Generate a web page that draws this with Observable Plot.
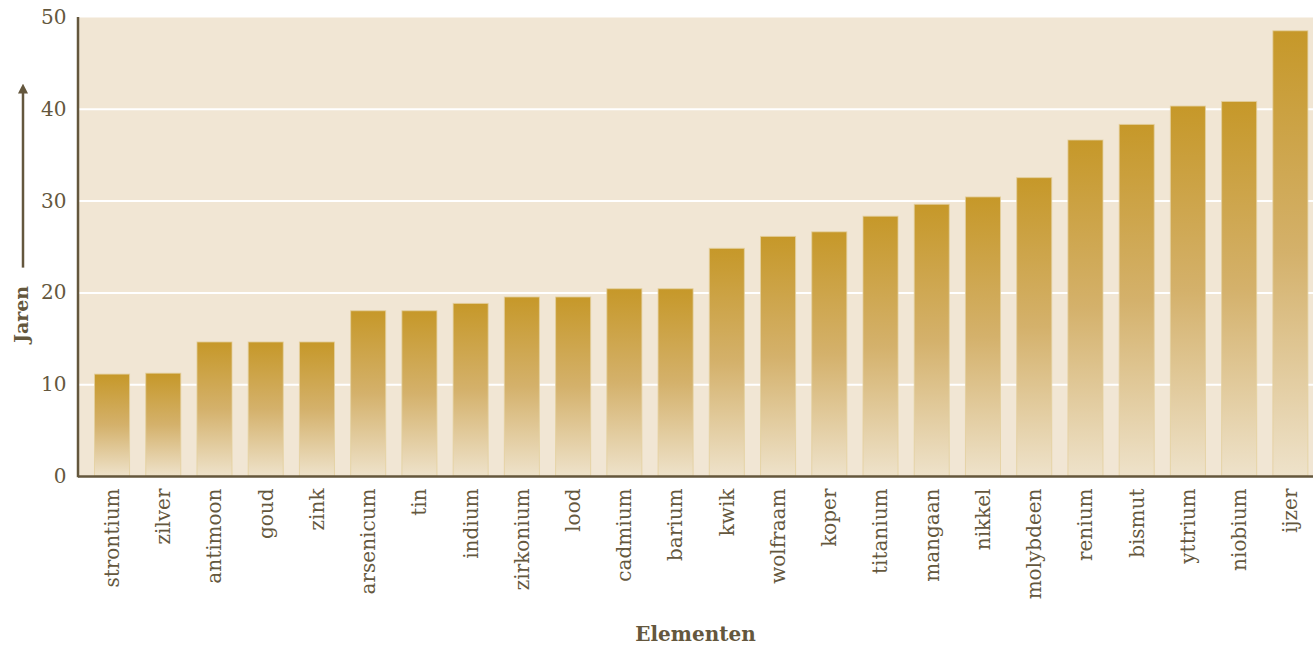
<!DOCTYPE html>
<html>
<head>
<meta charset="utf-8">
<script src="https://cdn.jsdelivr.net/npm/d3@7"></script>
<script src="https://cdn.jsdelivr.net/npm/@observablehq/plot@0.6"></script>
<style>
  html, body { margin: 0; padding: 0; background: #ffffff; }
  #chart svg { display: block; }
</style>
</head>
<body>
<div id="chart"></div>
<script>
const elements = ["strontium","zilver","antimoon","goud","zink","arsenicum","tin","indium","zirkonium","lood","cadmium","barium","kwik","wolfraam","koper","titanium","mangaan","nikkel","molybdeen","renium","bismut","yttrium","niobium","ijzer"];
const years = [11.1,11.2,14.6,14.6,14.6,18.0,18.0,18.8,19.5,19.5,20.4,20.4,24.8,26.1,26.6,28.3,29.6,30.4,32.5,36.6,38.3,40.3,40.8,48.5];
const yTicks = [0,10,20,30,40,50];
const gridTicks = [10,20,30,40];
const yLabel = "Jaren";
const xLabel = "Elementen";

const data = elements.map((e, i) => ({element: e, years: years[i]}));

const ink = "#64573d";
const font = "'DejaVu Serif', serif";

const defs = () => {
  const d = d3.create("svg:defs");
  const g = d.append("linearGradient").attr("id", "barGrad")
    .attr("x1", 0).attr("y1", 0).attr("x2", 0).attr("y2", 1);
  g.append("stop").attr("offset", "0%").attr("stop-color", "#c69829");
  g.append("stop").attr("offset", "50%").attr("stop-color", "#d4b16b");
  g.append("stop").attr("offset", "100%").attr("stop-color", "#eee2ca");
  const m = d.append("marker").attr("id", "arrowHead")
    .attr("viewBox", "0 0 10 10").attr("refX", 5).attr("refY", 5)
    .attr("markerWidth", 10).attr("markerHeight", 10)
    .attr("markerUnits", "userSpaceOnUse").attr("orient", "auto");
  m.append("path").attr("d", "M0,0 L10,5 L0,10 Z").attr("fill", ink);
  return d.node();
};

const W = 1313, H = 649, ML = 78, MT = 17, MB = 173;

const plot = Plot.plot({
  width: W,
  height: H,
  marginLeft: ML,
  marginRight: 0,
  marginTop: MT,
  marginBottom: MB,
  style: {fontFamily: font, fontSize: "20px", color: ink, background: "#ffffff"},
  x: {domain: elements, range: [ML, 1324.4], paddingInner: 0.316, paddingOuter: 0.322, round: false, label: null},
  y: {domain: [0, 50], label: null},
  marks: [
    defs,
    Plot.frame({fill: "#f1e6d4", stroke: null}),
    Plot.gridY(gridTicks, {stroke: "#ffffff", strokeOpacity: 1, strokeWidth: 2}),
    Plot.barY(data, {x: "element", y: "years", fill: "url(#barGrad)", stroke: "#e3cf9d", strokeWidth: 1, strokeOpacity: 0.8}),
    Plot.ruleY([0], {stroke: ink, strokeWidth: 2.5}),
    Plot.axisY({ticks: yTicks, tickSize: 0, tickPadding: 12, fontSize: 20, label: null}),
    Plot.axisX({tickSize: 0, tickPadding: 12, tickRotate: -90, fontSize: 20, label: null})
  ]
});

const svg = d3.select(plot);
const ys = plot.scale("y");
const y0 = ys.apply(0), y50 = ys.apply(50);
// left axis line
svg.append("line").attr("x1", ML).attr("x2", ML).attr("y1", y50).attr("y2", y0 + 1.25)
  .attr("stroke", ink).attr("stroke-width", 2.5);
// y-axis label with arrow
svg.append("text").attr("transform", `translate(28,${ys.apply(17.6)}) rotate(-90)`)
  .attr("text-anchor", "middle").attr("font-weight", "bold").attr("font-size", 19)
  .attr("fill", ink).attr("font-family", font).text(yLabel);
svg.append("line").attr("x1", 23).attr("x2", 23).attr("y1", ys.apply(22.7)).attr("y2", ys.apply(42.2))
  .attr("stroke", ink).attr("stroke-width", 2.5).attr("marker-end", "url(#arrowHead)");
// x-axis label
svg.append("text").attr("x", (ML + W) / 2).attr("y", H - 8)
  .attr("text-anchor", "middle").attr("font-weight", "bold").attr("font-size", 20)
  .attr("fill", ink).attr("font-family", font).text(xLabel);

document.getElementById("chart").appendChild(plot);
</script>
</body>
</html>
